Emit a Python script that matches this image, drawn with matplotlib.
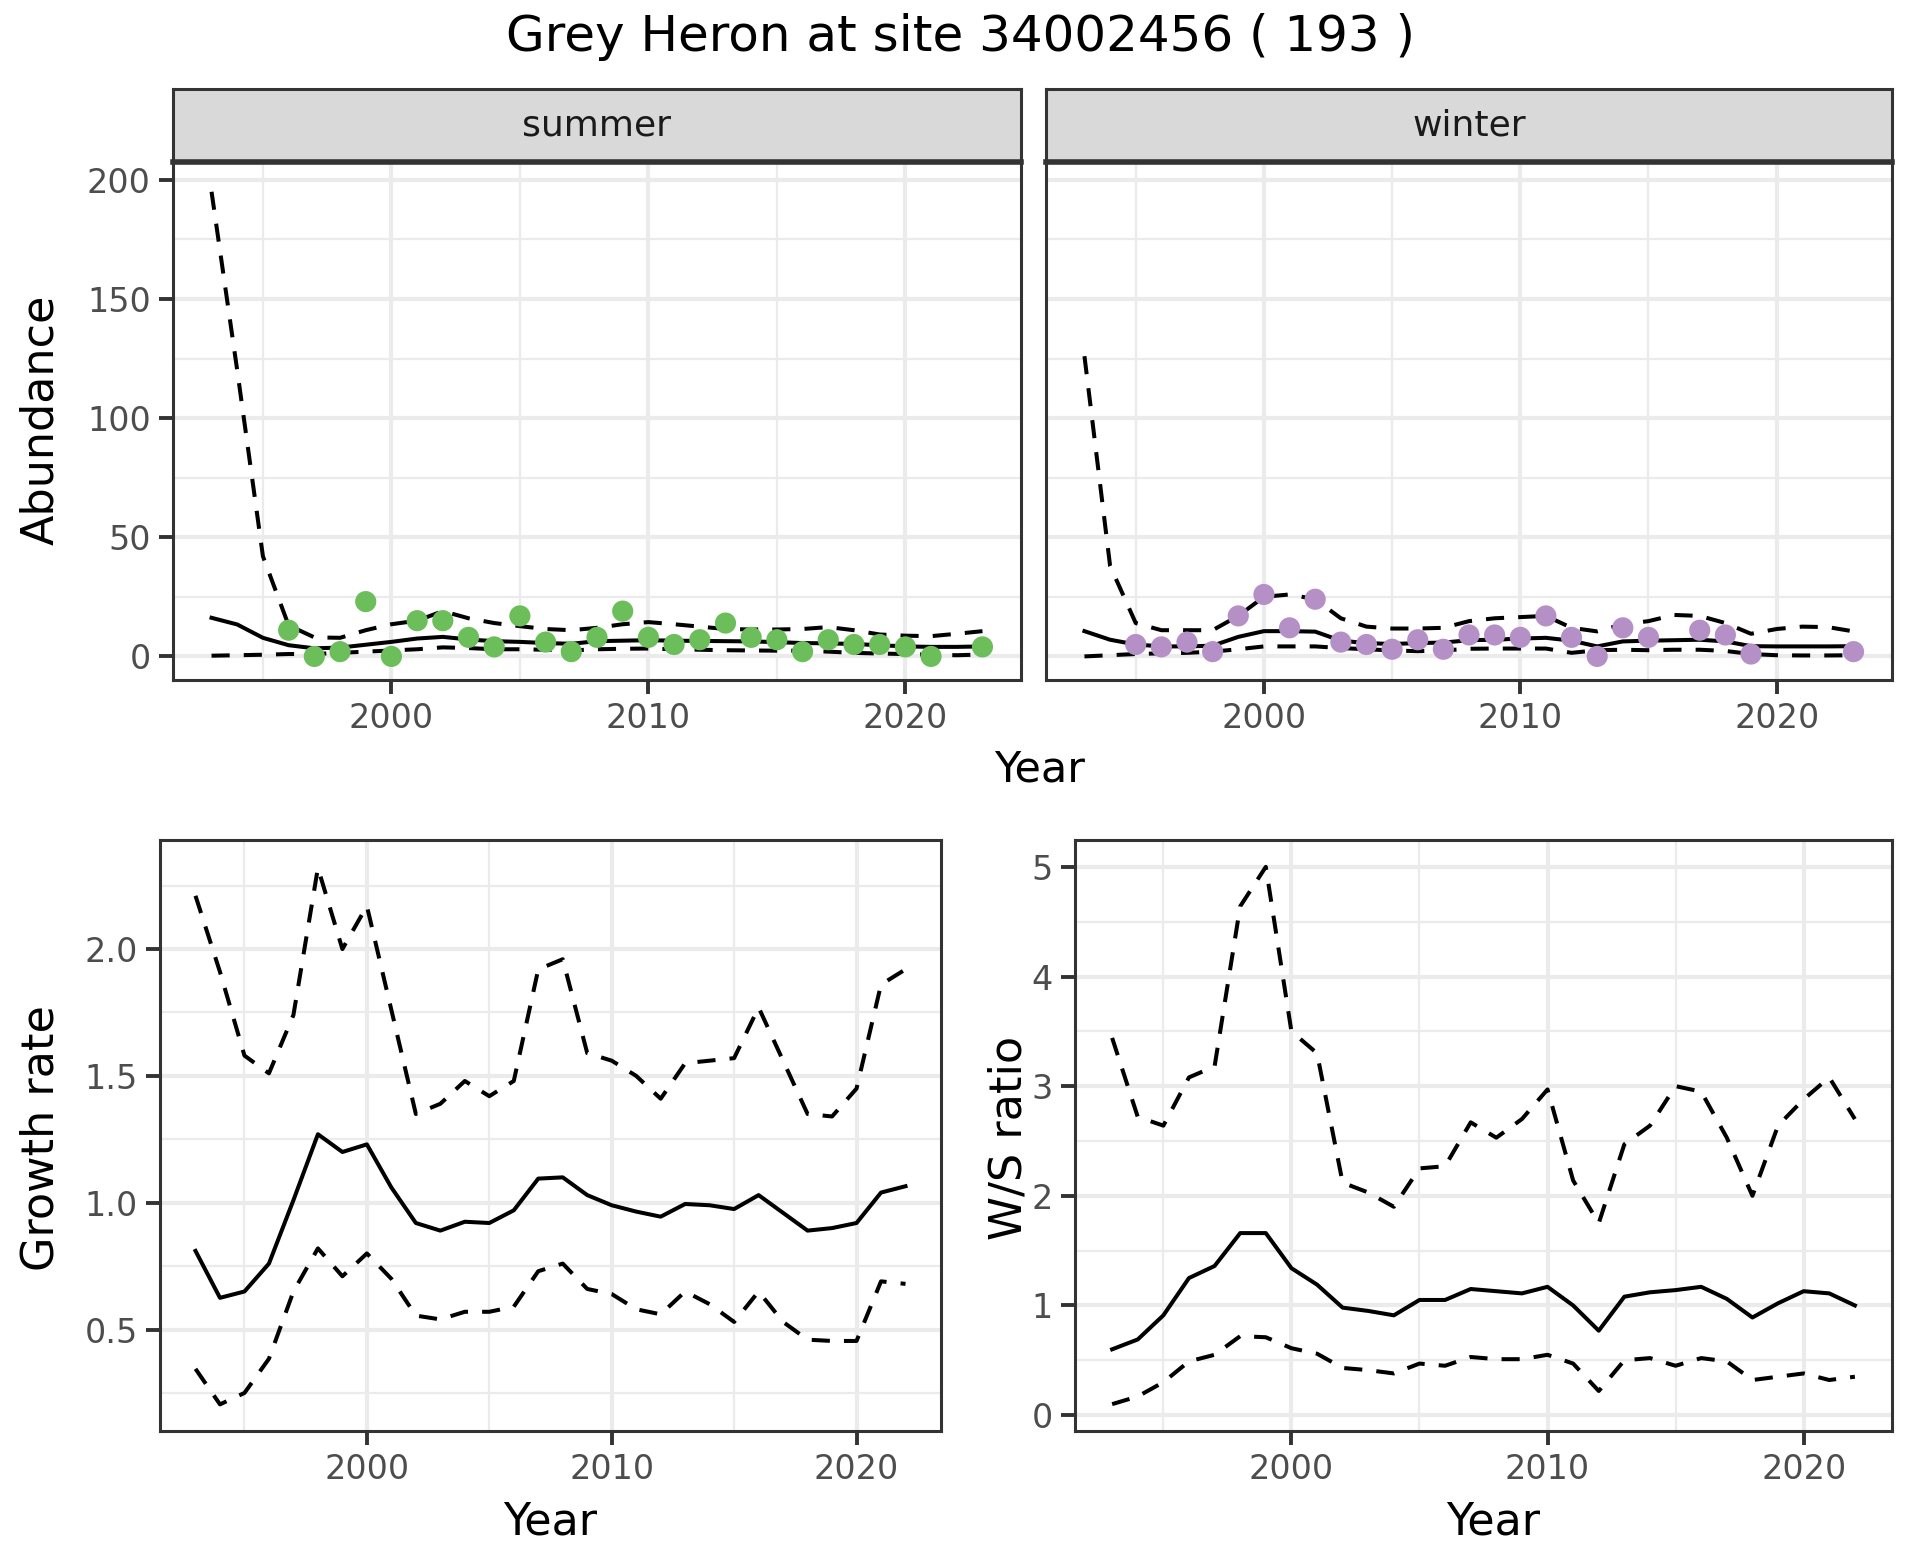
import numpy as np
from matplotlib import pyplot as plt
from matplotlib.ticker import MultipleLocator

years = list(range(1993, 2024))
growth_years = list(range(1993, 2023))

# summer abundance (model mean, upper and lower bound) and counts
summer_mean = [16.2, 13.4, 7.8, 4.7, 3.4, 3.7, 4.9, 6.1, 7.5, 8.2, 7.1, 6.4, 6.1, 5.6, 5.3,
               6.4, 6.6, 6.8, 6.6, 6.5, 6.4, 6.3, 6.0, 5.6, 5.5, 5.2, 4.7, 4.2, 4.0, 4.0, 4.2]
summer_upper = [195, 120, 42, 13, 8, 7.8, 11, 13.5, 15, 19, 16, 14, 12.7, 11.5, 11,
                12, 13.5, 14.4, 13.5, 12.5, 11.5, 11.3, 11.3, 11.5, 12.3, 11, 9.2, 8.7, 8.5, 9.5, 10.6]
summer_lower = [0.3, 0.5, 0.7, 1.0, 1.0, 1.5, 2.0, 2.5, 3.0, 3.8, 3.5, 3.0, 3.0, 2.8, 2.5,
                3.0, 3.2, 3.3, 3.0, 2.8, 2.6, 2.5, 2.4, 2.4, 2.0, 1.5, 1.2, 1.0, 0.7, 0.5, 0.8]
summer_obs_years = [1996, 1997, 1998, 1999, 2000, 2001, 2002, 2003, 2004, 2005, 2006, 2007, 2008, 2009,
                    2010, 2011, 2012, 2013, 2014, 2015, 2016, 2017, 2018, 2019, 2020, 2021, 2023]
summer_obs = [11, 0, 2, 23, 0, 15, 15, 8, 4, 17, 6, 2, 8, 19,
              8, 5, 7, 14, 8, 7, 2, 7, 5, 5, 4, 0, 4]

# winter abundance
winter_mean = [10.6, 7.0, 5.0, 4.2, 4.2, 4.5, 8.2, 10.6, 10.6, 10.4, 6.6, 5.6, 5.2, 5.6, 5.8,
               6.8, 7.0, 7.5, 7.8, 6.6, 4.2, 6.3, 6.6, 6.8, 7.0, 6.3, 4.3, 4.2, 4.2, 4.2, 4.3]
winter_upper = [126, 38, 14, 11, 11, 11, 17, 25, 26, 24, 16, 12.5, 11.7, 11.7, 12,
                14.8, 16, 16.5, 17, 12, 10.5, 13.5, 14.8, 17.4, 17, 14, 9.5, 11.5, 12.5, 12.3, 10.5]
winter_lower = [0, 0.5, 1.0, 1.3, 1.5, 2.0, 3.0, 4.2, 4.2, 4.2, 3.5, 3.0, 2.5, 2.2, 2.5,
                3.2, 3.3, 3.3, 3.3, 1.5, 2.6, 2.8, 2.6, 2.8, 2.8, 2.3, 1.0, 0.5, 0.4, 0.4, 0.5]
winter_obs_years = [1995, 1996, 1997, 1998, 1999, 2000, 2001, 2002, 2003, 2004, 2005, 2006, 2007, 2008,
                    2009, 2010, 2011, 2012, 2013, 2014, 2015, 2017, 2018, 2019, 2023]
winter_obs = [5, 4, 6, 2, 17, 26, 12, 24, 6, 5, 3, 7, 3, 9,
              9, 8, 17, 8, 0, 12, 8, 11, 9, 1, 2]

# growth rate
growth_mean = [0.81, 0.625, 0.65, 0.76, 1.01, 1.27, 1.20, 1.23, 1.06, 0.92, 0.89, 0.925, 0.92, 0.97, 1.095,
               1.10, 1.03, 0.99, 0.965, 0.945, 0.995, 0.99, 0.975, 1.03, 0.96, 0.89, 0.90, 0.92, 1.04, 1.065]
growth_upper = [2.21, 1.91, 1.58, 1.51, 1.74, 2.32, 2.0, 2.17, 1.76, 1.35, 1.39, 1.48, 1.42, 1.48, 1.92,
                1.96, 1.59, 1.56, 1.50, 1.41, 1.55, 1.56, 1.57, 1.77, 1.56, 1.35, 1.34, 1.45, 1.86, 1.92]
growth_lower = [0.345, 0.205, 0.25, 0.385, 0.65, 0.82, 0.71, 0.80, 0.70, 0.555, 0.54, 0.57, 0.57, 0.59, 0.73,
                0.76, 0.66, 0.64, 0.58, 0.56, 0.65, 0.60, 0.53, 0.65, 0.53, 0.46, 0.455, 0.455, 0.69, 0.68]

# winter / summer ratio
ratio_mean = [0.6, 0.69, 0.91, 1.25, 1.36, 1.66, 1.66, 1.34, 1.19, 0.98, 0.95, 0.91, 1.05, 1.05, 1.15,
              1.13, 1.11, 1.17, 1.0, 0.77, 1.08, 1.12, 1.14, 1.17, 1.06, 0.89, 1.02, 1.13, 1.11, 1.0]
ratio_upper = [3.44, 2.72, 2.64, 3.08, 3.18, 4.64, 5.0, 3.5, 3.3, 2.12, 2.03, 1.9, 2.25, 2.27, 2.67,
               2.53, 2.7, 2.97, 2.14, 1.75, 2.47, 2.64, 3.0, 2.95, 2.53, 2.0, 2.64, 2.88, 3.08, 2.7]
ratio_lower = [0.1, 0.17, 0.3, 0.49, 0.55, 0.72, 0.71, 0.61, 0.56, 0.43, 0.41, 0.38, 0.47, 0.45, 0.53,
               0.51, 0.51, 0.55, 0.47, 0.22, 0.5, 0.52, 0.45, 0.52, 0.49, 0.32, 0.35, 0.38, 0.32, 0.35]

GRID = '#EBEBEB'
BORDER = '#333333'
LW = 1.45
DASH = (0, (4.5, 3.5))
W, H = 1920, 1560


def frac(x0, y0, x1, y1):
	# pixel box (top-left origin) -> figure fraction rect
	return [x0 / W, 1 - y1 / H, (x1 - x0) / W, (y1 - y0) / H]


def style_axes(ax, show_y=True):
	ax.set_facecolor('white')
	ax.grid(which='major', color=GRID, lw=1.5, zorder=0)
	ax.grid(which='minor', color=GRID, lw=0.8, zorder=0)
	ax.set_axisbelow(True)
	for s in ax.spines.values():
		s.set_color(BORDER)
		s.set_linewidth(1.1)
	ax.tick_params(which='major', length=5, width=1.4, color=BORDER,
				   labelsize=12, labelcolor='#4D4D4D', pad=3)
	ax.tick_params(which='minor', length=0)
	if not show_y:
		ax.tick_params(axis='y', which='both', left=False, labelleft=False)


def draw_bands(ax, x, mean, upper, lower):
	ax.plot(x, upper, color='black', lw=LW, linestyle=DASH, zorder=3)
	ax.plot(x, lower, color='black', lw=LW, linestyle=DASH, zorder=3)
	ax.plot(x, mean, color='black', lw=LW, zorder=3)


fig = plt.figure(figsize=(9.6, 7.8), dpi=200)

panels = [
	('summer', frac(173, 162, 1021, 680), summer_mean, summer_upper, summer_lower,
	 summer_obs_years, summer_obs, '#6BBE5A', True),
	('winter', frac(1046, 162, 1892, 680), winter_mean, winter_upper, winter_lower,
	 winter_obs_years, winter_obs, '#B590C7', False),
]
for name, rect, m, up, lo, oy, ov, col, show_y in panels:
	ax = fig.add_axes(rect)
	style_axes(ax, show_y)
	draw_bands(ax, years, m, up, lo)
	ax.scatter(oy, ov, s=58, color=col, edgecolors='none', zorder=4)
	ax.set_xlim(1991.5, 2024.5)
	ax.set_ylim(-9.9, 207.5)
	ax.xaxis.set_major_locator(MultipleLocator(10))
	ax.xaxis.set_minor_locator(MultipleLocator(5))
	ax.yaxis.set_major_locator(MultipleLocator(50))
	ax.yaxis.set_minor_locator(MultipleLocator(25))
	# facet strip
	sx = fig.add_axes([rect[0], 1 - 162 / H, rect[2], 73 / H])
	sx.set_facecolor('#D9D9D9')
	sx.set_xticks([])
	sx.set_yticks([])
	for s in sx.spines.values():
		s.set_color(BORDER)
		s.set_linewidth(1.1)
	sx.spines['bottom'].set_linewidth(2.0)
	sx.text(0.5, 0.5, name, ha='center', va='center', fontsize=13, color='#1A1A1A',
			transform=sx.transAxes)

# growth rate
ax = fig.add_axes(frac(160, 840, 941, 1431))
style_axes(ax)
draw_bands(ax, growth_years, growth_mean, growth_upper, growth_lower)
ax.set_xlim(1991.55, 2023.45)
ax.set_ylim(0.1, 2.43)
ax.xaxis.set_major_locator(MultipleLocator(10))
ax.xaxis.set_minor_locator(MultipleLocator(5))
ax.yaxis.set_major_locator(MultipleLocator(0.5))
ax.yaxis.set_minor_locator(MultipleLocator(0.25))
ax.yaxis.set_major_formatter(lambda v, p: f'{v:.1f}')

# W/S ratio
ax = fig.add_axes(frac(1075, 840, 1892, 1431))
style_axes(ax)
draw_bands(ax, growth_years, ratio_mean, ratio_upper, ratio_lower)
ax.set_xlim(1991.55, 2023.45)
ax.set_ylim(-0.145, 5.245)
ax.xaxis.set_major_locator(MultipleLocator(10))
ax.xaxis.set_minor_locator(MultipleLocator(5))
ax.yaxis.set_major_locator(MultipleLocator(1))
ax.yaxis.set_minor_locator(MultipleLocator(0.5))

fig.text(0.5, 0.976, 'Grey Heron at site 34002456 ( 193 )', ha='center', va='center', fontsize=18)
fig.text(0.5417, 0.507, 'Year', ha='center', va='center', fontsize=15.5)
fig.text(0.0211, 0.731, 'Abundance', ha='center', va='center', rotation=90, fontsize=16)
fig.text(0.0211, 0.2703, 'Growth rate', ha='center', va='center', rotation=90, fontsize=16)
fig.text(0.5256, 0.2703, 'W/S ratio', ha='center', va='center', rotation=90, fontsize=16)
fig.text(0.2866, 0.0242, 'Year', ha='center', va='center', fontsize=16)
fig.text(0.7776, 0.0242, 'Year', ha='center', va='center', fontsize=16)

fig.savefig('out.png', dpi=200, facecolor='white')
